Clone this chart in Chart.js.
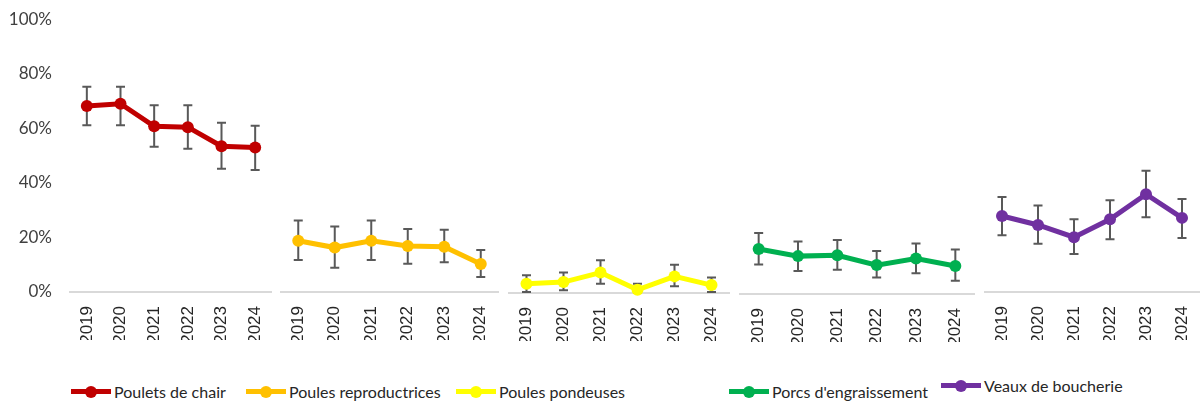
<!DOCTYPE html>
<html>
<head>
<meta charset="utf-8">
<script src="https://cdn.jsdelivr.net/npm/chart.js@4.4.1/dist/chart.umd.min.js"></script>
<style>
  html,body{margin:0;padding:0;background:#fff;}
  #wrap{position:relative;width:1201px;height:401px;overflow:hidden;}
  .panel{position:absolute;height:340px;}
  .leg{position:absolute;display:flex;align-items:center;font-family:Lato,sans-serif;font-size:16px;color:#262626;white-space:nowrap;}
  .sym{position:relative;width:40px;height:12px;margin-right:3px;}
  .sym i{position:absolute;left:0;right:0;top:3.5px;height:5px;}
  .sym b{position:absolute;left:14px;top:0;width:12px;height:12px;border-radius:50%;}
</style>
</head>
<body>
<div id="wrap">
  <div class="panel" id="p0"><canvas id="c0"></canvas></div>
  <div class="panel" id="p1"><canvas id="c1"></canvas></div>
  <div class="panel" id="p2"><canvas id="c2"></canvas></div>
  <div class="panel" id="p3"><canvas id="c3"></canvas></div>
  <div class="panel" id="p4"><canvas id="c4"></canvas></div>
  <div id="legend"></div>
</div>
<script>
'use strict';

// ── DATA ────────────────────────────────────────────────────────────────────
const years = ['2019','2020','2021','2022','2023','2024'];
const yTicks = [0,20,40,60,80,100];
const names = ['Poulets de chair','Poules reproductrices','Poules pondeuses',"Porcs d'engraissement",'Veaux de boucherie'];
const colors = ['#C00000','#FFC000','#FFFF00','#00B050','#7030A0'];

const pouletsVal = [68.3, 69.1, 60.8, 60.5, 53.5, 53.0];
const pouletsLo  = [61.2, 61.2, 53.3, 52.6, 45.2, 44.8];
const pouletsHi  = [75.3, 75.3, 68.5, 68.5, 62.1, 61.0];

const reproVal = [18.8, 16.3, 18.8, 16.9, 16.6, 10.3];
const reproLo  = [11.7,  8.9, 11.7, 10.4, 10.9,  5.5];
const reproHi  = [26.2, 24.0, 26.2, 23.1, 22.8, 15.4];

const pondVal = [3.4, 4.0,  7.5, 1.2,  6.1, 2.9];
const pondLo  = [0.4, 1.0,  3.4, 0.0,  2.5, 0.4];
const pondHi  = [6.5, 7.5, 12.0, 3.4, 10.4, 5.7];

const porcsVal = [16.5, 13.9, 14.2, 10.6, 13.0, 10.3];
const porcsLo  = [10.8,  8.4,  8.9,  6.1,  7.6,  4.9];
const porcsHi  = [22.4, 19.3, 19.8, 15.8, 18.5, 16.3];

const veauxVal = [27.9, 24.6, 20.1, 26.7, 35.9, 27.2];
const veauxLo  = [20.8, 17.7, 13.9, 19.4, 27.4, 19.8];
const veauxHi  = [34.9, 31.7, 26.7, 33.7, 44.5, 34.1];

const series = [
  {val:pouletsVal, lo:pouletsLo, hi:pouletsHi},
  {val:reproVal,   lo:reproLo,   hi:reproHi},
  {val:pondVal,    lo:pondLo,    hi:pondHi},
  {val:porcsVal,   lo:porcsLo,   hi:porcsHi},
  {val:veauxVal,   lo:veauxLo,   hi:veauxHi}
];

// ── LAYOUT (px) ─────────────────────────────────────────────────────────────
const panelBox = [
  {left:0,   width:272, top:0},
  {left:280, width:219, top:0},
  {left:508, width:222, top:1},
  {left:739, width:236, top:2},
  {left:984, width:216, top:0}
];
const legendBox = [
  {left:71,  top:382}, {left:246, top:382}, {left:456, top:382},
  {left:729, top:382}, {left:941, top:376}
];

// error bars drawn through the chart's own scales
const errorBars = {
  id:'errorBars',
  beforeDatasetsDraw(chart, args, opts){
    const {ctx, scales:{y}} = chart;
    const meta = chart.getDatasetMeta(0);
    const s = opts.s;
    ctx.save();
    ctx.strokeStyle = '#595959';
    ctx.lineWidth = 2;
    meta.data.forEach((pt,i)=>{
      const x = pt.x, yt = y.getPixelForValue(s.hi[i]), yb = y.getPixelForValue(s.lo[i]);
      ctx.beginPath();
      ctx.moveTo(x,yt); ctx.lineTo(x,yb);
      ctx.moveTo(x-4.5,yt); ctx.lineTo(x+4.5,yt);
      ctx.moveTo(x-4.5,yb); ctx.lineTo(x+4.5,yb);
      ctx.stroke();
    });
    ctx.restore();
  }
};

function makePanel(i){
  const box = panelBox[i];
  const div = document.getElementById('p'+i);
  div.style.left = box.left+'px';
  div.style.top = box.top+'px';
  div.style.width = box.width+'px';
  const first = i===0;
  new Chart(document.getElementById('c'+i), {
    type:'line',
    data:{labels:years, datasets:[{
      label:names[i], data:series[i].val,
      borderColor:colors[i], backgroundColor:colors[i],
      borderWidth:5, pointRadius:6, pointHoverRadius:6,
      pointBackgroundColor:colors[i], pointBorderColor:colors[i], pointBorderWidth:0,
      tension:0, clip:false
    }]},
    options:{
      responsive:true, maintainAspectRatio:false, animation:false,
      layout:{autoPadding:false, padding:{top:19.5, left:0, right:0, bottom:0}},
      plugins:{legend:{display:false}, tooltip:{enabled:false}, errorBars:{s:series[i]}},
      scales:{
        x:{
          offset:true,
          grid:{display:false, drawTicks:false},
          border:{color:'#D9D9D9', width:2},
          ticks:{minRotation:90, maxRotation:90, padding:14, color:'#262626',
            font:{family:"'Liberation Sans', Arial, sans-serif", size:17}},
          afterFit(s){ s.height = 48; s.paddingLeft = 0; s.paddingRight = 0; }
        },
        y:{
          display:first, min:0, max:100,
          afterBuildTicks(s){ s.ticks = yTicks.map(v=>({value:v})); },
          grid:{display:false, drawTicks:false},
          border:{display:false},
          ticks:{padding:18, color:'#404040', font:{family:'Lato, sans-serif', size:17}, callback:v=>v+'%'},
          afterFit(s){ if(first) s.width = 70; s.paddingTop = 0; s.paddingBottom = 0; }
        }
      }
    },
    plugins:[errorBars]
  });
}

function makeLegend(){
  const host = document.getElementById('legend');
  names.forEach((n,i)=>{
    const d = document.createElement('div');
    d.className = 'leg';
    d.style.left = legendBox[i].left+'px';
    d.style.top = legendBox[i].top+'px';
    d.innerHTML = `<span class="sym"><i style="background:${colors[i]}"></i><b style="background:${colors[i]}"></b></span><span>${n}</span>`;
    host.appendChild(d);
  });
}

for(let i=0;i<5;i++) makePanel(i);
makeLegend();
</script>
</body>
</html>
